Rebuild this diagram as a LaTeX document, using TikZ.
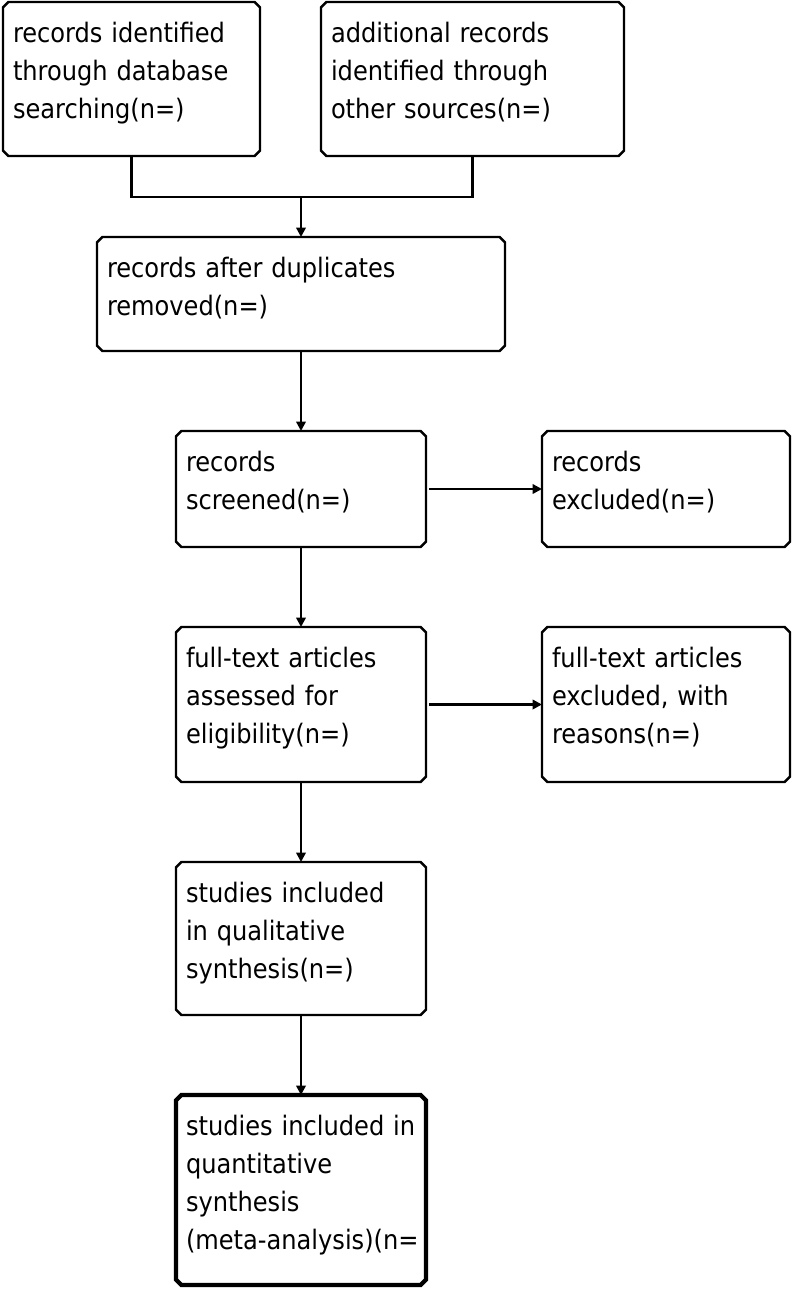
\documentclass[tikz,border=0pt]{standalone}
\usepackage{fontspec}
\setmainfont{DejaVu Sans Condensed}
\usetikzlibrary{arrows.meta}
\tikzset{
  boxshape/.style={rectangle, draw=none, inner sep=0pt, outer sep=0pt},
  outline/.style={draw=black, line width=1.8pt, line join=miter},
  thickbox/.style={line width=3.2pt},
  txt/.style={inner sep=0pt, outer sep=0pt, text width=330pt, align=left,
    font=\fontsize{20.1}{28.5}\selectfont, anchor=base west},
  conn/.style={line width=1.8pt},
  arr/.style={line width=1.8pt, -{Triangle[length=7pt,width=7pt]}},
}
% chamfered outline of node #2 with style #1
\newcommand\chamf[2]{%
  \draw[outline,#1] ([xshift=4pt]#2.north west) -- ([xshift=-4pt]#2.north east)
    -- ([yshift=-4pt]#2.north east) -- ([yshift=4pt]#2.south east)
    -- ([xshift=-4pt]#2.south east) -- ([xshift=4pt]#2.south west)
    -- ([yshift=4pt]#2.south west) -- ([yshift=-4pt]#2.north west) -- cycle;}
% #1 extra style, #2 name, #3 x1, #4 y1, #5 x2, #6 y2, #7 text
\newcommand\flowbox[7][]{%
  \node[boxshape,minimum width={(#5-#3)*0.75pt},minimum height={(#6-#4)*0.75pt}]
    (#2) at ({(#3+#5)/2},{(#4+#6)/2}) {};
  \begin{scope}
    \clip (#3,#4) rectangle ({#5-8},#6);
    \node[txt] (#2t) at ({#3+10},{#4+40}) {#7};
  \end{scope}
  \chamf{#1}{#2}}
\begin{document}
\begin{tikzpicture}[x=0.75pt,y=-0.75pt]
\useasboundingbox (0,0) rectangle (800,1292);
\flowbox{b1}{3}{2}{260}{156}{records identified\\through database\\searching(n=)}
\flowbox{b2}{321}{2}{624}{156}{additional records\\identified through\\other sources(n=)}
\flowbox{b3}{97}{237}{505}{351}{records after duplicates\\removed(n=)}
\flowbox{b4}{176}{431}{426}{547}{records\\screened(n=)}
\flowbox{b5}{542}{431}{790}{547}{records\\excluded(n=)}
\flowbox{b6}{176}{627}{426}{782}{full-text articles\\assessed for\\eligibility(n=)}
\flowbox{b7}{542}{627}{790}{782}{full-text articles\\excluded, with\\reasons(n=)}
\flowbox{b8}{176}{862}{426}{1015}{studies included\\in qualitative\\synthesis(n=)}
\flowbox[thickbox]{b9}{176}{1095}{426}{1285}{studies included in\\quantitative\\synthesis\\(meta-analysis)(n=)}
\coordinate (j) at (301,197);
\draw[conn] (b1.south) |- (j) -| (b2.south);
\draw[arr] (j) -- (b3.north);
\draw[arr] (b3.south) -- (b4.north);
\draw[arr] ([xshift=2.5pt]b4.east) -- (b5.west);
\draw[arr] (b4.south) -- (b6.north);
\draw[arr] ([xshift=2.5pt]b6.east) -- (b7.west);
\draw[arr] (b6.south) -- (b8.north);
\draw[arr] (b8.south) -- (b9.north);
\end{tikzpicture}
\end{document}
